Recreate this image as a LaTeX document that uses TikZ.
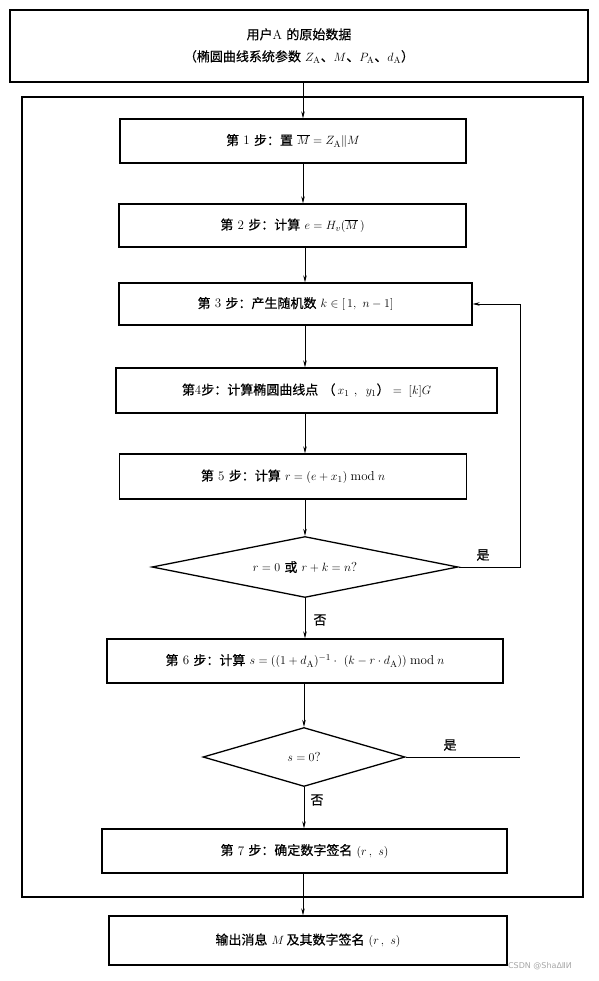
\documentclass[tikz,border=0pt]{standalone}
\usepackage{fontspec}
\newfontfamily\cjk[FakeBold=0.5]{Noto Sans CJK SC}
\newfontfamily\wmfont{DejaVu Sans}
\usetikzlibrary{arrows.meta,shapes.geometric,calc}
\newcommand\zhtext[1]{{\cjk #1}}
\begin{document}
\begin{tikzpicture}[x=1pt,y=-1pt,
  box/.style={draw,line width=1.3pt,rectangle,inner sep=0pt,align=center,font=\fontsize{13}{22}\selectfont},
  dia/.style={draw,line width=1.3pt,diamond,aspect=6,inner sep=0pt,font=\fontsize{13}{15}\selectfont},
  arr/.style={line width=0.7pt,-{Stealth[length=7pt,width=3.5pt]}},
  ln/.style={line width=0.7pt},
  lab/.style={font=\cjk\fontsize{13}{15}\selectfont,inner sep=0pt}]
\useasboundingbox (0,0) rectangle (598,981);
% nodes
\node[box,minimum width=578pt,minimum height=72pt] (top) at (299,46)
  {\zhtext{用户}A \zhtext{的原始数据}\\\zhtext{（椭圆曲线系统参数} $Z_{\mathrm A}$\zhtext{、}$M$\zhtext{、}$P_{\mathrm A}$\zhtext{、}$d_{\mathrm A}$\zhtext{）}};
\draw[line width=1.3pt] (22,97) rectangle (583,897);
\node[box,minimum width=346pt,minimum height=44pt] (s1) at (293,141)
  {\zhtext{第} 1 \zhtext{步：置} $\overline{M}=Z_{\mathrm A}\|M$};
\node[box,minimum width=347pt,minimum height=43pt] (s2) at (292.5,225.5)
  {\zhtext{第} 2 \zhtext{步：计算} $e=H_v(\overline{M}\,)$};
\node[box,minimum width=353pt,minimum height=42pt] (s3) at (295.5,304)
  {\zhtext{第} 3 \zhtext{步：产生随机数} $k\in[\,1,\ n-1]$};
\node[box,minimum width=381pt,minimum height=45pt] (s4) at (306.5,390.5)
  {\zhtext{第}4\zhtext{步：计算椭圆曲线点}\ \zhtext{（}\,$x_1$\ ,\ \ $y_1$\zhtext{）}$\;=\;[k]G$};
\node[box,minimum width=347pt,minimum height=45pt] (s5) at (293,476.5)
  {\zhtext{第} 5 \zhtext{步：计算} $r=(e+x_1)\bmod n$};
\node[dia,minimum width=306pt,minimum height=61pt] (d1) at (305,567)
  {$r=0$ \zhtext{或} $r+k=n$?};
\node[box,minimum width=396pt,minimum height=44pt] (s6) at (305,661)
  {\zhtext{第} 6 \zhtext{步：计算} $s=((1+d_{\mathrm A})^{-1}\cdot\ (k-r\cdot d_{\mathrm A}))\bmod n$};
\node[dia,minimum width=202pt,minimum height=59pt] (d2) at (304,757)
  {$s=0$?};
\node[box,minimum width=405pt,minimum height=44pt] (s7) at (304.5,851)
  {\zhtext{第} 7 \zhtext{步：确定数字签名} $(r\,,\ s)$};
\node[box,minimum width=398pt,minimum height=49pt] (out) at (308,940.5)
  {\zhtext{输出消息} $M$\,\zhtext{及其数字签名} $(r\,,\ s)$};
% labels
\node[lab] (y1) at (483,555) {是};
\node[lab] (y2) at (450,745) {是};
\node[lab] (n1) at (320,620) {否};
\node[lab] (n2) at (317,800) {否};
\node[font=\wmfont\fontsize{8}{9}\selectfont,text=gray!70,inner sep=0pt] (wm) at (540,966) {CSDN @ShaΔⅡИ};
% helper coordinates
\coordinate (xa) at (303,0);
\coordinate (xb) at (305,0);
\coordinate (xr) at (520,0);
% connectors
\draw[arr] (top.south -| xa) -- (s1.north -| xa);
\draw[arr] (s1.south -| xa) -- (s2.north -| xa);
\draw[arr] (s2.south -| xb) -- (s3.north -| xb);
\draw[arr] (s3.south -| xb) -- (s4.north -| xb);
\draw[arr] (s4.south -| d1.north) -- (s5.north -| d1.north);
\draw[arr] (s5.south -| d1.north) -- (d1.north);
\draw[arr] (d1.south) -- (s6.north -| d1.south);
\draw[arr] (s6.south -| d2.north) -- (d2.north);
\draw[arr] (d2.south) -- (s7.north -| d2.south);
\draw[arr] (s7.south -| xa) -- (out.north -| xa);
\draw[arr] (d1.east) -- (d1.east -| xr) -- (s3.east -| xr) -- (s3.east);
\draw[ln] (d2.east) -- (d2.east -| xr);
\end{tikzpicture}
\end{document}
